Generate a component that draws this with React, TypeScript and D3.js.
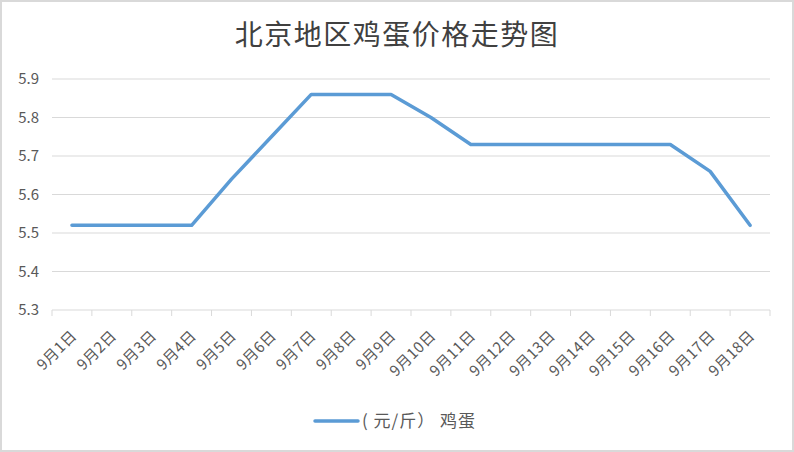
import React, { useEffect, useRef } from 'react';
import * as d3 from 'd3';

const days = ['9月1日', '9月2日', '9月3日', '9月4日', '9月5日', '9月6日', '9月7日', '9月8日', '9月9日',
  '9月10日', '9月11日', '9月12日', '9月13日', '9月14日', '9月15日', '9月16日', '9月17日', '9月18日'];
const prices = [5.52, 5.52, 5.52, 5.52, 5.64, 5.75, 5.86, 5.86, 5.86, 5.80, 5.73, 5.73, 5.73, 5.73, 5.73, 5.73, 5.66, 5.52];
const yTicks = [5.3, 5.4, 5.5, 5.6, 5.7, 5.8, 5.9];
const title = '北京地区鸡蛋价格走势图';
const seriesName = '( 元/斤） 鸡蛋';

const W = 794;
const H = 452;
const font = '"Microsoft YaHei", "Noto Sans CJK SC", "Noto Sans", sans-serif';

const App: React.FC = () => {
  const svgRef = useRef<SVGSVGElement>(null);

  useEffect(() => {
    const svg = d3.select(svgRef.current);
    svg.selectAll('*').remove();

    const margin = { top: 79, right: 24, bottom: 142, left: 52 };
    const innerW = W - margin.left - margin.right;
    const innerH = H - margin.top - margin.bottom;

    svg.append('rect')
      .attr('x', 1).attr('y', 1)
      .attr('width', W - 2).attr('height', H - 2)
      .attr('fill', '#fff')
      .attr('stroke', '#d9d9d9')
      .attr('stroke-width', 2);

    const x = d3.scaleBand().domain(days).range([0, innerW]);
    const y = d3.scaleLinear().domain([5.3, 5.9]).range([innerH, 0]);

    const g = svg.append('g').attr('transform', `translate(${margin.left},${margin.top})`);

    // gridlines
    g.selectAll('line.grid')
      .data(yTicks.slice(1))
      .enter().append('line')
      .attr('x1', 0).attr('x2', innerW)
      .attr('y1', d => y(d)).attr('y2', d => y(d))
      .attr('stroke', '#d9d9d9')
      .attr('stroke-width', 1);

    // y labels
    g.selectAll('text.ylab')
      .data(yTicks)
      .enter().append('text')
      .attr('x', -13)
      .attr('y', d => y(d))
      .attr('dy', '0.35em')
      .attr('text-anchor', 'end')
      .style('font-family', font)
      .style('font-size', '15px')
      .style('fill', '#595959')
      .text(d => d.toFixed(1));

    // x axis baseline + ticks
    g.append('line')
      .attr('x1', 0).attr('x2', innerW)
      .attr('y1', innerH).attr('y2', innerH)
      .attr('stroke', '#d9d9d9');
    const boundaries = days.map(d => x(d)!).concat([innerW]);
    g.selectAll('line.tick')
      .data(boundaries)
      .enter().append('line')
      .attr('x1', d => d).attr('x2', d => d)
      .attr('y1', innerH).attr('y2', innerH + 6)
      .attr('stroke', '#d9d9d9');

    // x labels
    g.selectAll('text.xlab')
      .data(days)
      .enter().append('text')
      .attr('transform', d => `translate(${x(d)! + x.bandwidth() / 2 + 2},${innerH + 23}) rotate(-45)`)
      .attr('text-anchor', 'end')
      .attr('dy', '0.35em')
      .style('font-family', font)
      .style('font-size', '15px')
      .style('letter-spacing', '0.5px')
      .style('fill', '#595959')
      .text(d => d);

    // line
    const line = d3.line<number>()
      .x((_, i) => x(days[i])! + x.bandwidth() / 2)
      .y(d => y(d));
    g.append('path')
      .datum(prices)
      .attr('d', line)
      .attr('fill', 'none')
      .attr('stroke', '#5b9bd5')
      .attr('stroke-width', 3.5)
      .attr('stroke-linecap', 'round')
      .attr('stroke-linejoin', 'round');

    // title
    svg.append('text')
      .attr('x', W / 2)
      .attr('y', 35)
      .attr('dy', '0.35em')
      .attr('text-anchor', 'middle')
      .style('font-family', font)
      .style('font-size', '28px')
      .style('letter-spacing', '1.5px')
      .style('fill', '#404040')
      .text(title);

    // legend
    const legend = svg.append('g').attr('transform', 'translate(315,421)');
    legend.append('line')
      .attr('x1', 0).attr('x2', 43)
      .attr('y1', 0).attr('y2', 0)
      .attr('stroke', '#5b9bd5')
      .attr('stroke-width', 3.5)
      .attr('stroke-linecap', 'round');
    legend.append('text')
      .attr('x', 47)
      .attr('y', 0)
      .attr('dy', '0.35em')
      .style('font-family', font)
      .style('font-size', '17px')
      .style('letter-spacing', '1px')
      .style('fill', '#595959')
      .text(seriesName);
  }, []);

  return (
    <svg ref={svgRef} width={W} height={H} style={{ position: 'absolute', left: 0, top: 0 }} />
  );
};

export default App;
